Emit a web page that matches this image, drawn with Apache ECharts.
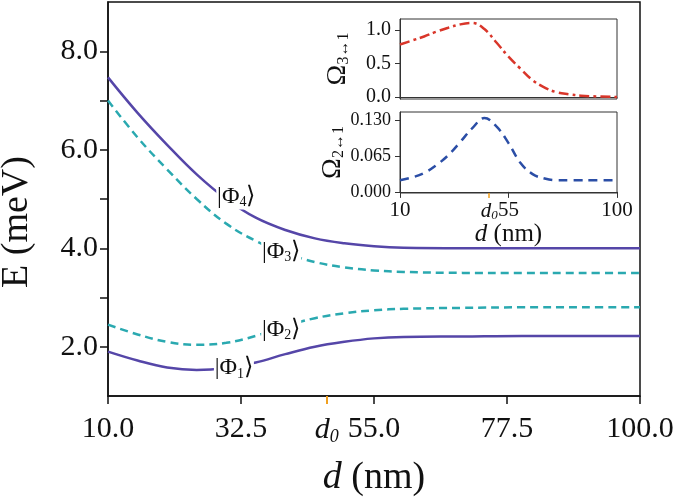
<!DOCTYPE html>
<html>
<head>
<meta charset="utf-8">
<script src="https://cdn.jsdelivr.net/npm/echarts@6/dist/echarts.min.js"></script>
<style>
html,body{margin:0;padding:0;background:#fff;}
#main{width:685px;height:502px;}
</style>
</head>
<body>
<div id="main"></div>
<script type="text/javascript">
// main panel: energies of the four states vs d
var d = [10, 15, 20, 25, 30, 35, 40, 45, 50, 55, 60, 70, 80, 90, 100];
var phi4 = [7.47, 6.75, 6.10, 5.50, 5.00, 4.62, 4.37, 4.20, 4.10, 4.04, 4.01, 4.00, 4.00, 4.00, 4.00];
var phi3 = [7.00, 6.25, 5.60, 5.00, 4.50, 4.15, 3.90, 3.72, 3.61, 3.55, 3.52, 3.50, 3.50, 3.50, 3.50];
var phi2 = [2.45, 2.25, 2.10, 2.04, 2.08, 2.22, 2.42, 2.58, 2.68, 2.74, 2.77, 2.79, 2.80, 2.80, 2.80];
var phi1 = [1.90, 1.72, 1.58, 1.53, 1.57, 1.68, 1.85, 2.00, 2.10, 2.17, 2.20, 2.21, 2.22, 2.22, 2.22];

// inset: couplings vs d
var dIn = [10, 15, 20, 25, 30, 35, 40, 45, 50, 55, 60, 65, 70, 75, 80, 85, 90, 100];
var omega31 = [0.78, 0.84, 0.90, 0.97, 1.03, 1.08, 1.10, 1.01, 0.81, 0.60, 0.42, 0.25, 0.14, 0.07, 0.04, 0.02, 0.01, 0.00];
var omega21 = [0.021, 0.026, 0.034, 0.048, 0.066, 0.090, 0.115, 0.133, 0.118, 0.088, 0.052, 0.032, 0.024, 0.021, 0.021, 0.021, 0.021, 0.021];

var d0 = 47;
var mainXTicks = [10, 32.5, 55, 77.5, 100];
var mainYLabels = [2, 4, 6, 8];
var mainYTicks = [2, 3, 4, 5, 6, 7, 8];
var inXLabels = [10, 55, 100];
var in31Ticks = [0, 0.5, 1.0];
var in21Ticks = [0, 0.065, 0.13];

// where the state labels sit (d, E)
var labelAt = {
    phi4: [31.7, 5.05],
    phi3: [39.3, 3.94],
    phi2: [39.3, 2.35],
    phi1: [31.3, 1.57]
};

var serif = "'Liberation Serif', 'Times New Roman', serif";
var ink = '#111';
var purple = '#5546a8';
var teal = '#2aa9b0';

function pairs(xs, ys) {
    return xs.map(function (x, i) { return [x, ys[i]]; });
}

function stateLabel(name, n, pos) {
    return {
        symbol: 'rect',
        symbolSize: [40, 26],
        itemStyle: {color: '#fff'},
        label: {
            show: true,
            position: 'inside',
            formatter: '{a||Φ}{s|' + n + '}{a|⟩}',
            rich: {
                a: {fontFamily: serif, fontSize: 24, color: ink},
                s: {fontFamily: serif, fontSize: 14, color: ink, verticalAlign: 'bottom', padding: [12, 0, 0, 0]}
            }
        },
        data: [{name: name, coord: pos}]
    };
}

var subRich = {
    o: {fontFamily: serif, fontSize: 28, color: ink},
    s: {fontFamily: serif, fontSize: 16, color: ink, verticalAlign: 'bottom', padding: [12, 0, 0, 0]}
};

var d0Rich = function (size) {
    return {
        i: {fontFamily: serif, fontStyle: 'italic', fontSize: size, color: ink},
        s: {fontFamily: serif, fontStyle: 'italic', fontSize: Math.round(size * 0.6), color: ink, verticalAlign: 'bottom', padding: [Math.round(size * 0.45), 0, 0, 0]}
    };
};

var chart = echarts.init(document.getElementById('main'));
chart.setOption({
    backgroundColor: '#fff',
    animation: false,
    grid: [
        {left: 108, top: 2, width: 532, height: 394, outerBoundsMode: 'none', show: true, borderColor: ink, borderWidth: 1.5},
        {left: 400, top: 19, width: 217, height: 80, outerBoundsMode: 'none', show: true, borderColor: '#333', borderWidth: 1, backgroundColor: '#fff'},
        {left: 400, top: 112, width: 217, height: 81, outerBoundsMode: 'none', show: true, borderColor: '#333', borderWidth: 1, backgroundColor: '#fff'}
    ],
    xAxis: [
        {
            gridIndex: 0, type: 'value', min: 10, max: 100,
            axisLine: {lineStyle: {color: ink, width: 1.5}},
            axisTick: {customValues: mainXTicks, length: 8, lineStyle: {color: ink, width: 1.5}},
            axisLabel: {customValues: mainXTicks, formatter: function (v) { return v.toFixed(1); },
                fontFamily: serif, fontSize: 30, color: ink, margin: 18},
            splitLine: {show: false},
            name: '{i|d} (nm)', nameLocation: 'middle', nameGap: 63,
            nameTextStyle: {fontFamily: serif, fontSize: 38, color: ink,
                rich: {i: {fontFamily: serif, fontStyle: 'italic', fontSize: 38, color: ink}}}
        },
        {
            gridIndex: 0, type: 'value', min: 10, max: 100, position: 'bottom',
            axisLine: {show: false},
            axisTick: {customValues: [d0], length: 8, lineStyle: {color: '#f0a020', width: 2}},
            axisLabel: {customValues: [d0], formatter: function () { return '{i|d}{s|0}'; },
                margin: 18, rich: d0Rich(30)},
            splitLine: {show: false}
        },
        {
            gridIndex: 1, type: 'value', min: 10, max: 100,
            axisLine: {lineStyle: {color: '#333'}},
            axisTick: {show: false}, axisLabel: {show: false}, splitLine: {show: false}
        },
        {
            gridIndex: 2, type: 'value', min: 10, max: 100,
            axisLine: {lineStyle: {color: '#333'}},
            axisTick: {customValues: inXLabels, length: 6, lineStyle: {color: '#333'}},
            axisLabel: {customValues: inXLabels, fontFamily: serif, fontSize: 21, color: ink, margin: 7},
            splitLine: {show: false},
            name: '{i|d} (nm)', nameLocation: 'middle', nameGap: 29,
            nameTextStyle: {fontFamily: serif, fontSize: 25, color: ink,
                rich: {i: {fontFamily: serif, fontStyle: 'italic', fontSize: 25, color: ink}}}
        },
        {
            gridIndex: 2, type: 'value', min: 10, max: 100, position: 'bottom',
            axisLine: {show: false},
            axisTick: {customValues: [d0], length: 5, lineStyle: {color: '#f0a020', width: 1.5}},
            axisLabel: {customValues: [d0], formatter: function () { return '{i|d}{s|0}'; },
                margin: 7, rich: d0Rich(21)},
            splitLine: {show: false}
        }
    ],
    yAxis: [
        {
            gridIndex: 0, type: 'value', min: 1, max: 9,
            axisLine: {show: true, lineStyle: {color: ink, width: 1.5}},
            axisTick: {show: true, customValues: mainYTicks, length: 8, lineStyle: {color: ink, width: 1.5}},
            axisLabel: {customValues: mainYLabels, formatter: function (v) { return v.toFixed(1); },
                fontFamily: serif, fontSize: 30, color: ink, margin: 10},
            splitLine: {show: false},
            name: 'E (meV)', nameLocation: 'middle', nameGap: 72,
            nameTextStyle: {fontFamily: serif, fontSize: 38, color: ink, padding: [0, 46, 0, 0]}
        },
        {
            gridIndex: 1, type: 'value', min: -0.03, max: 1.16,
            axisLine: {show: true, lineStyle: {color: '#333'}},
            axisTick: {show: true, customValues: in31Ticks, length: 5, lineStyle: {color: '#333'}},
            axisLabel: {customValues: in31Ticks, formatter: function (v) { return v.toFixed(1); },
                fontFamily: serif, fontSize: 20, color: ink, margin: 9},
            splitLine: {show: false},
            name: '{o|Ω}{s|3↔1}', nameLocation: 'middle', nameGap: 48,
            nameTextStyle: {rich: subRich}
        },
        {
            gridIndex: 2, type: 'value', min: -0.002, max: 0.144,
            axisLine: {show: true, lineStyle: {color: '#333'}},
            axisTick: {show: true, customValues: in21Ticks, length: 5, lineStyle: {color: '#333'}},
            axisLabel: {customValues: in21Ticks, formatter: function (v) { return v.toFixed(3); },
                fontFamily: serif, fontSize: 18, color: ink, margin: 9},
            splitLine: {show: false},
            name: '{o|Ω}{s|2↔1}', nameLocation: 'middle', nameGap: 48,
            nameTextStyle: {rich: subRich}
        }
    ],
    series: [
        {type: 'line', name: 'Φ4', xAxisIndex: 0, yAxisIndex: 0, data: pairs(d, phi4), smooth: 0.4,
            showSymbol: false, lineStyle: {color: purple, width: 2.5}, markPoint: stateLabel('Φ4', 4, labelAt.phi4)},
        {type: 'line', name: 'Φ3', xAxisIndex: 0, yAxisIndex: 0, data: pairs(d, phi3), smooth: 0.4,
            showSymbol: false, lineStyle: {color: teal, width: 2.5, type: [8, 5]}, markPoint: stateLabel('Φ3', 3, labelAt.phi3)},
        {type: 'line', name: 'Φ2', xAxisIndex: 0, yAxisIndex: 0, data: pairs(d, phi2), smooth: 0.4,
            showSymbol: false, lineStyle: {color: teal, width: 2.5, type: [8, 5]}, markPoint: stateLabel('Φ2', 2, labelAt.phi2)},
        {type: 'line', name: 'Φ1', xAxisIndex: 0, yAxisIndex: 0, data: pairs(d, phi1), smooth: 0.4,
            showSymbol: false, lineStyle: {color: purple, width: 2.5}, markPoint: stateLabel('Φ1', 1, labelAt.phi1)},
        {type: 'line', name: 'Ω31', xAxisIndex: 2, yAxisIndex: 1, data: pairs(dIn, omega31), smooth: 0.4,
            showSymbol: false, lineStyle: {color: '#d9362a', width: 2.5, type: [10, 4, 3, 4]}},
        {type: 'line', name: 'Ω21', xAxisIndex: 3, yAxisIndex: 2, data: pairs(dIn, omega21), smooth: 0.4,
            showSymbol: false, lineStyle: {color: '#2b4ea6', width: 2.5, type: [9, 6]}}
    ]
});
</script>
</body>
</html>
